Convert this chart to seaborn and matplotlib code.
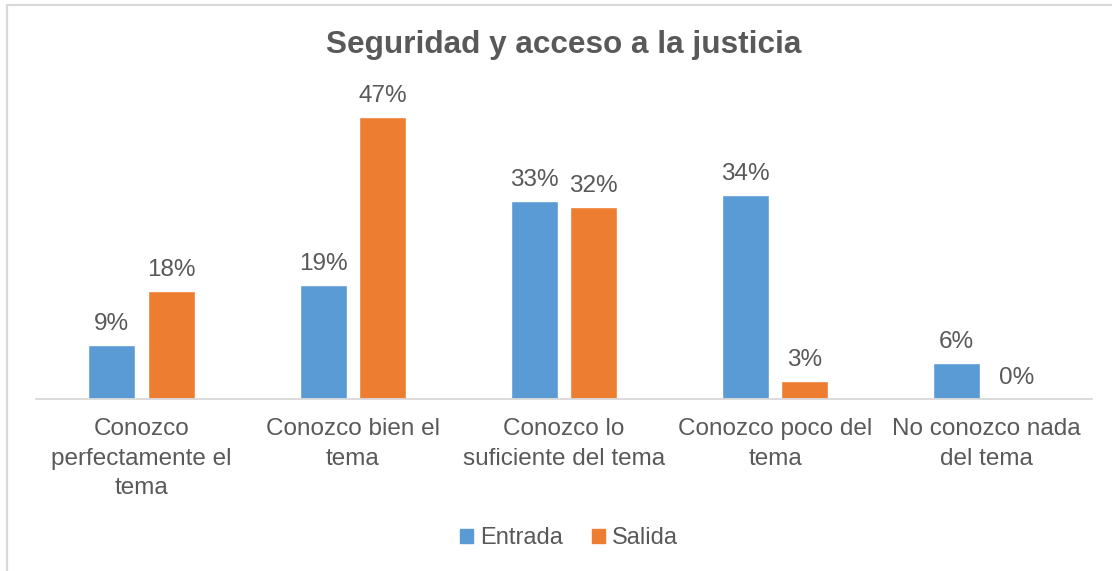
import matplotlib
matplotlib.use("Agg")
import matplotlib.pyplot as plt
from matplotlib.lines import Line2D
import seaborn as sns
import pandas as pd

categories = ["Conozco\nperfectamente el\ntema", "Conozco bien el\ntema",
              "Conozco lo\nsuficiente del tema", "Conozco poco del\ntema",
              "No conozco nada\ndel tema"]
entrada = [9, 19, 33, 34, 6]
salida = [18, 47, 32, 3, 0]
series = ["Entrada", "Salida"]
title = "Seguridad y acceso a la justicia"

df = pd.DataFrame({
    "cat": categories * 2,
    "val": entrada + salida,
    "serie": [series[0]] * len(categories) + [series[1]] * len(categories),
})

sns.set_style("white")
plt.rcParams["font.family"] = ["Liberation Sans", "DejaVu Sans"]
TXT = "#595959"

fig = plt.figure(figsize=(11.12, 5.71), dpi=100)
ax = fig.add_axes([36 / 1112, 172 / 571, 1056 / 1112, 300 / 571])

sns.barplot(data=df, x="cat", y="val", hue="serie", order=categories,
            hue_order=series, palette=["#5B9BD5", "#ED7D31"],
            width=0.563, gap=0.21, ax=ax, legend=False, saturation=1)

ax.set_ylim(0, 50)
ax.set_xlim(-0.5, len(categories) - 0.5)
for c in ax.containers:
    ax.bar_label(c, labels=[f"{int(round(v))}%" for v in c.datavalues],
                 padding=7, fontsize=17.5, color=TXT, clip_on=False)

for s in ["top", "right", "left"]:
    ax.spines[s].set_visible(False)
ax.spines["bottom"].set_color("#D9D9D9")
ax.spines["bottom"].set_linewidth(1.3)
ax.set_yticks([])
ax.set_xlabel("")
ax.set_ylabel("")
ax.tick_params(axis="x", length=0, pad=14, labelsize=17.5, labelcolor=TXT)
for lab in ax.get_xticklabels():
    lab.set_linespacing(1.42)

fig.text(564 / 1112, 1 - 45 / 571, title, ha="center", va="center",
         fontsize=22.7, fontweight="bold", color=TXT)

handles = [plt.Rectangle((0, 0), 1, 1, color="#5B9BD5"),
           plt.Rectangle((0, 0), 1, 1, color="#ED7D31")]
leg = fig.legend(handles, series, loc="center", ncol=2,
                 bbox_to_anchor=(569 / 1112, 1 - 538 / 571), frameon=False,
                 fontsize=17, handlelength=0.55, handleheight=0.55,
                 handletextpad=0.3, columnspacing=1.2)
for t in leg.get_texts():
    t.set_color(TXT)

# chart frame
fig.add_artist(Line2D([7 / 1112, 7 / 1112], [0, 1 - 5 / 571],
                      transform=fig.transFigure, color="#D9D9D9", lw=1.6))
fig.add_artist(Line2D([7 / 1112, 1], [1 - 5 / 571, 1 - 5 / 571],
                      transform=fig.transFigure, color="#D9D9D9", lw=1.6))

fig.savefig("out.png", dpi=100, facecolor="white")
